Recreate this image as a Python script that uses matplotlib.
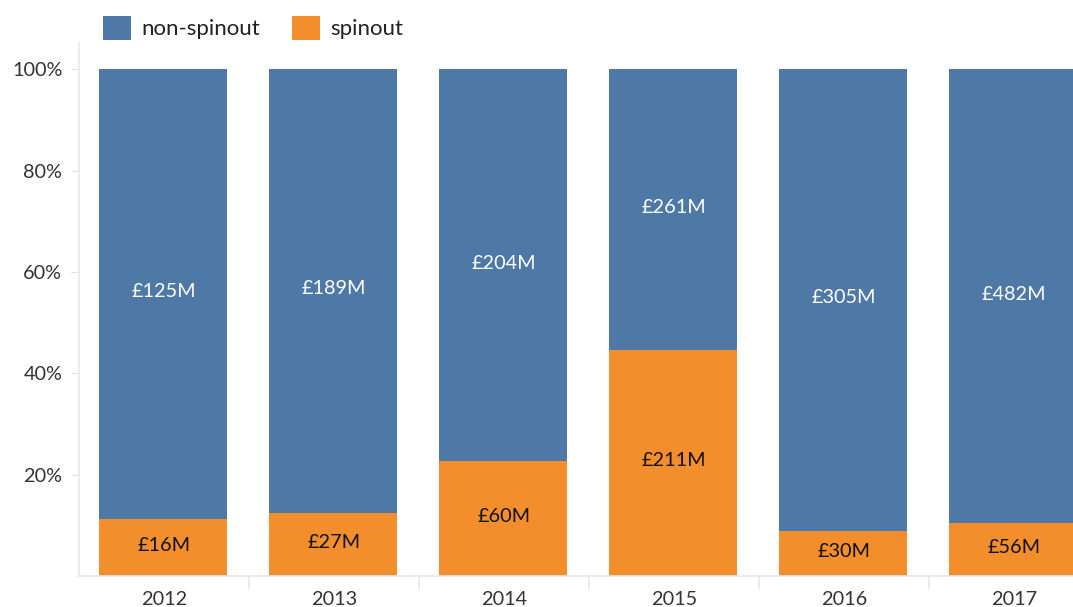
import matplotlib
matplotlib.use("Agg")
import matplotlib.pyplot as plt
from matplotlib.patches import Patch
import numpy as np

years = ["2012", "2013", "2014", "2015", "2016", "2017"]
spinout = [16, 27, 60, 211, 30, 56]
non_spinout = [125, 189, 204, 261, 305, 482]
series_names = ["non-spinout", "spinout"]
colors = {"non-spinout": "#4e79a7", "spinout": "#f28e2b"}

plt.rcParams['font.family'] = ['Lato', 'DejaVu Sans']

W, H = 1073, 607
fig = plt.figure(figsize=(W / 100, H / 100), dpi=100)
ax = fig.add_axes([79 / W, 31 / H, 1020 / W, 533 / H])

x = np.arange(len(years))
tot = np.array(spinout) + np.array(non_spinout)
sp_pct = np.array(spinout) / tot * 100
ns_pct = np.array(non_spinout) / tot * 100
bw = 128 / 170

ax.bar(x - 0.005, sp_pct, width=bw, color=colors["spinout"], zorder=2)
ax.bar(x - 0.005, ns_pct, bottom=sp_pct, width=bw, color=colors["non-spinout"], zorder=2)

for i in range(len(years)):
    ax.text(x[i], sp_pct[i] / 2 + 0.4, f"£{spinout[i]}M", ha="center", va="center",
            fontsize=14.3, color="#111111", zorder=3)
    ax.text(x[i], sp_pct[i] + ns_pct[i] / 2 + 0.4, f"£{non_spinout[i]}M", ha="center",
            va="center", fontsize=14.3, color="white", zorder=3)

ax.set_xlim(-0.5, len(years) - 0.5)
ax.set_ylim(0, 105.2)
ax.set_yticks([20, 40, 60, 80, 100])
ax.set_yticklabels(["20%", "40%", "60%", "80%", "100%"])
ax.set_xticks(x)
ax.set_xticklabels(years)
ax.set_xticks(np.arange(0.5, len(years) - 0.5, 1), minor=True)

for s in ["top", "right"]:
    ax.spines[s].set_visible(False)
for s in ["left", "bottom"]:
    ax.spines[s].set_color("#e8e8e8")
    ax.spines[s].set_linewidth(1.2)

ax.tick_params(axis="y", length=6, color="#e0e0e0", labelsize=14.3, labelcolor="#333333", pad=6)
ax.tick_params(axis="x", which="major", length=0, labelsize=14.3, labelcolor="#333333", pad=11)
ax.tick_params(axis="x", which="minor", length=9, color="#e8e8e8", width=1.2)

handles = [Patch(facecolor=colors[n], label=n) for n in series_names]
fig.legend(handles=handles, loc="upper left", bbox_to_anchor=(103 / W, 1 - 16 / H),
           ncol=2, frameon=False, fontsize=16, handlelength=1.27, handleheight=1.27,
           handletextpad=0.45, columnspacing=1.45, borderpad=0, borderaxespad=0,
           labelcolor="#222222")

fig.savefig("out.png", dpi=100)
